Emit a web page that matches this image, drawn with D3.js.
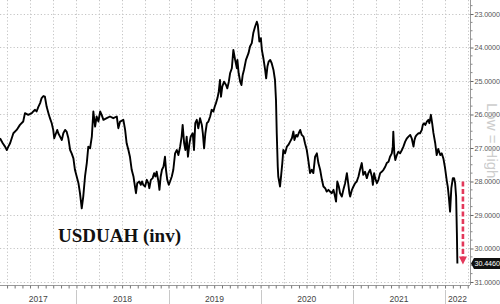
<!DOCTYPE html>
<html>
<head>
<meta charset="utf-8">
<script src="https://cdn.jsdelivr.net/npm/d3@7"></script>
<style>
  body { margin: 0; background: #fff; }
  svg { display: block; }
</style>
</head>
<body>
<svg id="chart" width="500" height="304"></svg>
<script>
// DATA
const dates = [
  "2017-03-04","2017-03-15","2017-03-24","2017-03-31","2017-04-06","2017-04-13","2017-04-26","2017-05-09","2017-05-22","2017-06-04",
  "2017-06-11","2017-06-24","2017-07-08","2017-07-14","2017-07-21","2017-07-27","2017-08-03","2017-08-10","2017-08-16","2017-08-23",
  "2017-08-29","2017-09-05","2017-09-12","2017-09-18","2017-09-25","2017-10-01","2017-10-05","2017-10-12","2017-10-17","2017-10-21",
  "2017-10-28","2017-11-04","2017-11-10","2017-11-17","2017-11-23","2017-11-30","2017-12-07","2017-12-13","2017-12-20","2017-12-26",
  "2018-01-02","2018-01-09","2018-01-15","2018-01-22","2018-01-28","2018-02-04","2018-02-11","2018-02-17","2018-02-24","2018-03-03",
  "2018-03-09","2018-03-16","2018-03-22","2018-03-29","2018-04-05","2018-04-11","2018-04-18","2018-05-01","2018-05-14","2018-05-27",
  "2018-06-10","2018-06-16","2018-06-23","2018-07-06","2018-07-13","2018-07-19","2018-07-26","2018-08-01","2018-08-08","2018-08-15",
  "2018-08-21","2018-08-25","2018-08-30","2018-09-07","2018-09-13","2018-09-18","2018-09-23","2018-09-30","2018-10-07","2018-10-13",
  "2018-10-17","2018-10-23","2018-10-30","2018-11-05","2018-11-10","2018-11-15","2018-11-22","2018-11-26","2018-12-01","2018-12-06",
  "2018-12-12","2018-12-18","2018-12-22","2018-12-27","2019-01-02","2019-01-07","2019-01-14","2019-01-20","2019-01-27","2019-02-03",
  "2019-02-09","2019-02-16","2019-02-22","2019-02-26","2019-03-04","2019-03-09","2019-03-14","2019-03-19","2019-03-25","2019-03-30",
  "2019-04-07","2019-04-12","2019-04-17","2019-04-23","2019-04-29","2019-05-06","2019-05-13","2019-05-17","2019-05-22","2019-05-27",
  "2019-06-02","2019-06-08","2019-06-15","2019-06-21","2019-06-28","2019-07-03","2019-07-08","2019-07-14","2019-07-19","2019-07-24",
  "2019-07-28","2019-08-02","2019-08-09","2019-08-17","2019-08-22","2019-08-28","2019-09-02","2019-09-09","2019-09-15","2019-09-22",
  "2019-09-29","2019-10-01","2019-10-06","2019-10-12","2019-10-17","2019-10-22","2019-10-27","2019-11-04","2019-11-14","2019-11-20",
  "2019-11-27","2019-12-03","2019-12-10","2019-12-17","2019-12-21","2019-12-27","2020-01-02","2020-01-06","2020-01-12","2020-01-19",
  "2020-01-23","2020-01-28","2020-02-02","2020-02-08","2020-02-14","2020-02-21","2020-02-27","2020-03-02","2020-03-05","2020-03-09",
  "2020-03-11","2020-03-18","2020-03-22","2020-03-27","2020-03-31","2020-04-07","2020-04-14","2020-04-20","2020-04-27","2020-05-04",
  "2020-05-10","2020-05-14","2020-05-21","2020-05-26","2020-05-31","2020-06-06","2020-06-12","2020-06-19","2020-06-25","2020-07-02",
  "2020-07-08","2020-07-15","2020-07-22","2020-07-28","2020-08-04","2020-08-11","2020-08-17","2020-08-24","2020-08-31","2020-09-06",
  "2020-09-13","2020-09-19","2020-09-26","2020-10-02","2020-10-09","2020-10-16","2020-10-22","2020-10-26","2020-10-31","2020-11-06",
  "2020-11-11","2020-11-18","2020-11-24","2020-12-01","2020-12-08","2020-12-14","2020-12-18","2020-12-21","2020-12-28","2021-01-03",
  "2021-01-10","2021-01-16","2021-01-23","2021-01-29","2021-02-05","2021-02-11","2021-02-18","2021-02-25","2021-03-03","2021-03-10",
  "2021-03-17","2021-03-21","2021-03-26","2021-03-30","2021-04-06","2021-04-12","2021-04-19","2021-04-25","2021-05-02","2021-05-09",
  "2021-05-15","2021-05-22","2021-05-28","2021-06-04","2021-06-08","2021-06-10","2021-06-14","2021-06-18","2021-06-24","2021-06-30",
  "2021-07-07","2021-07-14","2021-07-20","2021-07-27","2021-08-03","2021-08-09","2021-08-16","2021-08-22","2021-08-29","2021-09-02",
  "2021-09-06","2021-09-11","2021-09-18","2021-09-24","2021-10-01","2021-10-05","2021-10-10","2021-10-15","2021-10-21","2021-10-27",
  "2021-10-31","2021-11-06","2021-11-11","2021-11-16","2021-11-23","2021-11-29","2021-12-05","2021-12-13","2021-12-19","2021-12-26",
  "2022-01-01","2022-01-08","2022-01-12","2022-01-16","2022-01-21","2022-01-26","2022-02-01","2022-02-06","2022-02-10","2022-02-14",
  "2022-02-17","2022-02-19"
];

const usduah = [
  26.71,26.86,26.96,27.06,26.96,26.86,26.56,26.46,26.31,26.21,
  25.96,26.01,25.96,25.91,25.86,25.91,25.77,25.66,25.51,25.45,
  25.47,25.77,25.96,26.11,26.26,26.46,26.71,26.56,26.46,26.56,
  26.66,26.76,26.56,26.46,26.51,26.71,27.06,27.16,27.31,27.65,
  27.85,28.05,28.35,28.80,28.45,27.85,27.45,26.96,27.01,26.66,
  25.91,26.36,26.06,26.21,25.91,26.01,26.16,26.11,26.06,26.11,
  26.06,26.41,26.21,26.16,26.46,26.86,27.06,27.26,27.65,27.85,
  28.15,28.35,28.05,28.00,28.10,28.00,28.10,28.15,27.95,28.05,
  28.20,27.95,27.90,27.75,27.85,27.71,28.00,28.25,27.85,27.65,
  27.56,27.26,27.65,27.95,28.10,28.00,27.85,27.65,27.16,27.06,
  27.21,26.96,26.66,26.31,26.86,27.06,26.66,27.26,26.86,26.66,
  26.56,27.06,26.26,26.16,26.41,26.11,26.31,26.56,27.01,26.56,
  26.26,26.21,26.06,25.86,25.91,25.77,25.66,25.51,25.32,24.97,
  25.47,25.17,25.02,25.12,25.22,25.02,24.77,24.62,24.07,24.37,
  24.62,24.37,24.77,25.02,25.12,24.82,24.67,24.37,24.17,23.97,
  23.87,23.57,23.38,23.23,23.33,23.82,23.72,24.07,24.32,24.67,
  24.92,24.57,24.42,24.37,24.47,24.67,24.97,25.57,26.56,27.56,
  27.85,28.15,27.85,27.45,27.06,27.16,26.96,26.91,26.81,26.71,
  26.51,26.76,26.61,26.66,26.56,26.46,26.61,26.66,26.86,27.06,
  27.36,27.75,27.65,27.75,27.26,27.16,27.45,27.65,27.95,28.15,
  28.20,28.30,28.25,28.30,28.35,28.25,28.45,28.60,28.00,28.15,
  28.35,28.45,28.25,28.05,27.75,28.10,28.35,28.45,28.25,28.15,
  28.05,28.00,27.85,27.65,27.45,27.80,27.71,27.90,27.75,27.65,
  27.85,28.10,27.75,27.90,28.05,27.95,27.75,27.71,27.65,27.56,
  27.45,27.41,27.26,27.16,26.96,26.51,27.16,27.36,27.21,27.11,
  27.16,27.06,26.96,26.81,26.71,26.66,26.61,26.71,26.96,26.76,
  26.66,26.61,26.56,26.56,26.46,26.31,26.26,26.31,26.21,26.16,
  26.26,26.01,26.26,26.55,26.85,27.21,27.03,27.21,27.16,27.33,
  27.59,27.98,28.16,28.45,28.90,28.20,27.90,27.90,28.05,28.45,
  29.54,30.446
];

const yTicks = [23, 24, 25, 26, 27, 28, 29, 30, 31];
const years = [2017, 2018, 2019, 2020, 2021, 2022];
const lastValue = 30.446;
const arrowFrom = 28.0;
const arrowDate = "2022-03-13";
const title = "USDUAH (inv)";
const note = "Low = High";

// CANVAS SETUP
const svg = d3.select("#chart");
const plotW = 470,
  plotH = 285;
const smallFont = "8.5px 'Liberation Sans', Arial, sans-serif";
const tickFont = "7.2px 'Liberation Sans', Arial, sans-serif";

const parse = d3.utcParse("%Y-%m-%d");
const data = dates.map((d, i) => ({ date: parse(d), value: usduah[i] }));

const xStart = parse("2017-03-04"),
  xEnd = parse("2022-04-10");

const x = d3.scaleUtc().domain([xStart, xEnd]).range([0, plotW]);
// inverted axis: low numbers on top
const y = d3.scaleLinear().domain([22.582, 31.09]).range([0, plotH]);

// GRID
const grid = svg.append("g").attr("stroke", "#c4c4c4").attr("stroke-width", 1)
  .attr("stroke-dasharray", "1.2,2.2");

grid.selectAll(".hg")
  .data(yTicks)
  .join("line")
  .attr("x1", 0)
  .attr("x2", plotW)
  .attr("y1", (d) => Math.round(y(d)) + 0.5)
  .attr("y2", (d) => Math.round(y(d)) + 0.5);

grid.selectAll(".vg")
  .data(d3.utcMonth.every(3).range(xStart, xEnd))
  .join("line")
  .attr("x1", (d) => Math.round(x(d)) + 0.5)
  .attr("x2", (d) => Math.round(x(d)) + 0.5)
  .attr("y1", 0)
  .attr("y2", plotH);

// AXES
const gy = svg.append("g").attr("transform", `translate(${plotW + 0.5},0)`);
gy.call(
  d3.axisRight(y)
    .tickValues(yTicks)
    .tickFormat(d3.format(".4f"))
    .tickSize(3)
    .tickPadding(1)
)
  .call((g) => {
    g.select(".domain").attr("stroke", "#999").attr("d", `M0,0V${plotH}`);
    g.selectAll(".tick line").attr("stroke", "#666");
    g.selectAll("text")
      .attr("fill", "#555")
      .style("letter-spacing", "-0.1px")
      .style("font", tickFont);
  });

gy.selectAll(".minor")
  .data(d3.range(22.75, 31.1, 0.25).filter((v) => v % 1 !== 0))
  .join("line")
  .attr("x1", 0)
  .attr("x2", 2)
  .attr("y1", (d) => y(d))
  .attr("y2", (d) => y(d))
  .attr("stroke", "#888");

const gx = svg.append("g").attr("transform", `translate(0,${plotH + 0.5})`);
gx.call(d3.axisBottom(x).ticks(d3.utcMonth.every(1)).tickFormat("").tickSize(3))
  .call((g) => {
    g.select(".domain").attr("stroke", "#999").attr("d", `M0,0H${plotW}`);
    g.selectAll(".tick line").attr("stroke", "#777");
  });

// year separators and labels
const yearG = svg.append("g");
years.forEach((yr) => {
  const a = d3.max([xStart, new Date(Date.UTC(yr, 0, 1))]);
  const b = d3.min([xEnd, new Date(Date.UTC(yr + 1, 0, 1))]);
  if (yr > years[0]) {
    yearG.append("line")
      .attr("x1", Math.round(x(a)) + 0.5)
      .attr("x2", Math.round(x(a)) + 0.5)
      .attr("y1", 290)
      .attr("y2", 304)
      .attr("stroke", "#c8c8c8");
  }
  yearG.append("text")
    .attr("x", (x(a) + x(b)) / 2)
    .attr("y", 302)
    .attr("text-anchor", "middle")
    .attr("fill", "#444")
    .style("font", smallFont)
    .text(yr);
});

// LINE
svg.append("path")
  .datum(data)
  .attr("fill", "none")
  .attr("stroke", "#000")
  .attr("stroke-width", 1.9)
  .attr("stroke-linejoin", "round")
  .attr("d", d3.line().x((d) => x(d.date)).y((d) => y(d.value)));

// RED ARROW
const ax = x(parse(arrowDate));
svg.append("line")
  .attr("x1", ax)
  .attr("x2", ax)
  .attr("y1", y(arrowFrom))
  .attr("y2", y(lastValue) - 6)
  .attr("stroke", "#e3385a")
  .attr("stroke-width", 2.6)
  .attr("stroke-dasharray", "5,2.5");
svg.append("path")
  .attr("d", `M${ax - 4},${y(lastValue) - 7}L${ax + 4},${y(lastValue) - 7}L${ax},${y(lastValue) + 1}Z`)
  .attr("fill", "#e3385a");

// LAST VALUE TAG
const tag = svg.append("g").attr("transform", `translate(${plotW + 1},${y(lastValue)})`);
tag.append("path")
  .attr("d", "M0,0L3,-5.5H29V5.5H3Z")
  .attr("fill", "#111");
tag.append("text")
  .attr("x", 3.5)
  .attr("y", 2.6)
  .attr("fill", "#fff")
  .style("letter-spacing", "-0.1px")
  .style("font", tickFont)
  .text(lastValue.toFixed(4));

// ANNOTATIONS
svg.append("text")
  .attr("x", 58)
  .attr("y", 242)
  .attr("fill", "#111")
  .style("font", "bold 19px 'Liberation Serif', 'Times New Roman', serif")
  .text(title);

svg.append("text")
  .attr("transform", "translate(487,103) rotate(90)")
  .attr("fill", "#c4c4c4")
  .attr("opacity", 0.85)
  .style("font", "15px 'Liberation Sans', Arial, sans-serif")
  .text(note);
</script>
</body>
</html>
